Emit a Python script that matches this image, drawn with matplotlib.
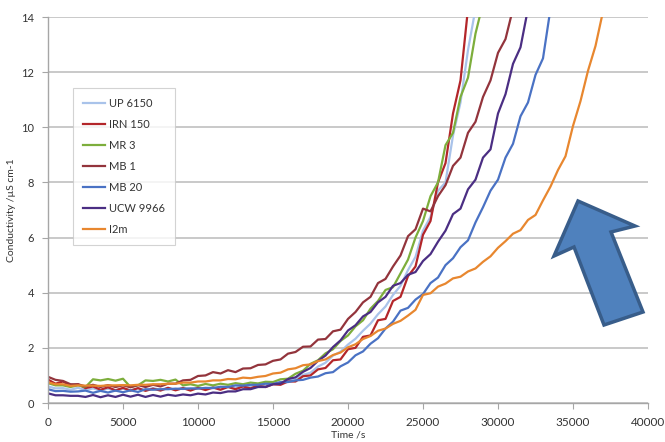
import numpy as np
import matplotlib
matplotlib.use("Agg")
import matplotlib.pyplot as plt
from matplotlib.patches import Polygon

# sampling grid of the logged conductivity runs (s), one reading every 500 s
time_s = np.arange(0, 37001, 500)

# conductivity readings (uS/cm), rows of 14 readings = 7000 s
up6150 = [0.6, 0.53, 0.54, 0.48, 0.55, 0.47, 0.53, 0.46, 0.52, 0.45, 0.52, 0.46, 0.53, 0.47,
          0.54, 0.48, 0.55, 0.48, 0.56, 0.5, 0.57, 0.51, 0.58, 0.53, 0.6, 0.55, 0.62, 0.58,
          0.65, 0.62, 0.72, 0.72, 0.82, 0.86, 1.02, 1.1, 1.32, 1.46, 1.72, 1.86, 2.12, 2.33,
          2.62, 2.88, 3.22, 3.5, 3.92, 4.25, 4.82, 5.3, 6.25, 6.75, 7.7, 8.0, 9.7, 10.9,
          12.8, 14.3]
irn150 = [0.85, 0.7, 0.78, 0.62, 0.68, 0.54, 0.6, 0.48, 0.57, 0.46, 0.55, 0.45, 0.54, 0.44,
          0.52, 0.45, 0.55, 0.46, 0.54, 0.45, 0.55, 0.47, 0.56, 0.48, 0.58, 0.5, 0.6, 0.53,
          0.63, 0.58, 0.68, 0.66, 0.78, 0.78, 0.97, 1.0, 1.22, 1.27, 1.55, 1.58, 1.95, 2.0,
          2.4, 2.45, 3.0, 3.05, 3.7, 3.85, 4.6, 4.95, 6.1, 6.6, 8.0, 8.7, 10.5, 11.7,
          14.3]
mr3 = [0.72, 0.64, 0.64, 0.58, 0.64, 0.58, 0.86, 0.82, 0.87, 0.81, 0.88, 0.58, 0.64, 0.82,
       0.8, 0.84, 0.78, 0.85, 0.64, 0.68, 0.62, 0.69, 0.64, 0.7, 0.66, 0.72, 0.68, 0.74,
       0.71, 0.77, 0.76, 0.86, 0.88, 1.06, 1.17, 1.42, 1.55, 1.8, 1.95, 2.25, 2.45, 2.78,
       3.0, 3.42, 3.7, 4.1, 4.2, 4.7, 5.2, 6.0, 6.6, 7.5, 8.0, 9.35, 9.8, 11.1,
       11.8, 13.4, 14.5]
mb1 = [0.95, 0.84, 0.8, 0.68, 0.68, 0.6, 0.66, 0.58, 0.65, 0.58, 0.64, 0.57, 0.65, 0.58,
       0.66, 0.6, 0.7, 0.7, 0.82, 0.84, 0.98, 1.0, 1.12, 1.07, 1.19, 1.12, 1.25, 1.26,
       1.38, 1.4, 1.53, 1.58, 1.79, 1.85, 2.04, 2.05, 2.3, 2.32, 2.6, 2.66, 3.05, 3.3,
       3.65, 3.85, 4.35, 4.5, 4.95, 5.35, 6.05, 6.3, 7.05, 6.95, 7.5, 7.9, 8.6, 8.9,
       9.8, 10.2, 11.1, 11.7, 12.7, 13.2, 14.3]
mb20 = [0.5, 0.43, 0.44, 0.41, 0.42, 0.45, 0.37, 0.44, 0.38, 0.45, 0.39, 0.46, 0.4, 0.5,
        0.48, 0.5, 0.5, 0.52, 0.51, 0.53, 0.52, 0.55, 0.54, 0.59, 0.58, 0.64, 0.63, 0.66,
        0.66, 0.7, 0.69, 0.76, 0.76, 0.82, 0.84, 0.92, 0.96, 1.08, 1.12, 1.33, 1.47, 1.73,
        1.87, 2.15, 2.35, 2.7, 2.95, 3.35, 3.45, 3.75, 3.95, 4.35, 4.55, 5.0, 5.25, 5.65,
        5.9, 6.55, 7.1, 7.7, 8.1, 8.9, 9.4, 10.4, 10.9, 11.9, 12.5, 14.3]
ucw9966 = [0.35, 0.28, 0.28, 0.26, 0.26, 0.22, 0.29, 0.21, 0.28, 0.22, 0.3, 0.23, 0.3, 0.22,
           0.29, 0.23, 0.3, 0.26, 0.31, 0.28, 0.34, 0.31, 0.38, 0.36, 0.42, 0.42, 0.5, 0.5,
           0.58, 0.58, 0.68, 0.7, 0.87, 0.93, 1.13, 1.27, 1.53, 1.72, 2.03, 2.27, 2.63, 2.82,
           3.14, 3.3, 3.65, 3.85, 4.25, 4.35, 4.65, 4.75, 5.15, 5.4, 5.85, 6.25, 6.85, 7.05,
           7.75, 8.1, 8.9, 9.2, 10.5, 11.2, 12.3, 12.9, 14.3]
i2m = [0.75, 0.68, 0.68, 0.62, 0.64, 0.63, 0.63, 0.62, 0.64, 0.64, 0.65, 0.64, 0.66, 0.66,
       0.68, 0.68, 0.7, 0.7, 0.74, 0.74, 0.78, 0.78, 0.82, 0.82, 0.87, 0.86, 0.92, 0.9,
       0.95, 0.98, 1.07, 1.1, 1.22, 1.26, 1.37, 1.4, 1.52, 1.58, 1.74, 1.83, 2.02, 2.13,
       2.32, 2.43, 2.62, 2.7, 2.87, 2.98, 3.17, 3.38, 3.92, 3.98, 4.22, 4.33, 4.52, 4.58,
       4.77, 4.88, 5.12, 5.32, 5.63, 5.87, 6.14, 6.27, 6.64, 6.82, 7.35, 7.85, 8.45, 8.95,
       10.05, 10.95, 12.05, 12.95, 14.2]

labels = ["UP 6150", "IRN 150", "MR 3", "MB 1", "MB 20", "UCW 9966", "I2m"]
series = [up6150, irn150, mr3, mb1, mb20, ucw9966, i2m]
colours = ["#A9C3EA", "#B3262A", "#7DAE3C", "#93343C", "#4A72C4", "#4B2E83", "#E8872F"]
x_ticks = [0, 5000, 10000, 15000, 20000, 25000, 30000, 35000, 40000]
y_ticks = [0, 2, 4, 6, 8, 10, 12, 14]

plt.rcParams['font.family'] = ['Lato', 'DejaVu Sans']

fig = plt.figure(figsize=(6.65, 4.42), dpi=100)
ax = fig.add_axes([48 / 665, 39 / 442, 600 / 665, 386 / 442])

for y, lab, col in zip(series, labels, colours):
    ax.plot(time_s[:len(y)], y, color=col, lw=1.6, label=lab)

ax.set_xlim(0, 40000)
ax.set_ylim(0, 14)
ax.set_xticks(x_ticks)
ax.set_yticks(y_ticks)
ax.grid(axis='y', color='#C0C0C0', lw=1.2)
ax.set_axisbelow(True)
for side in ['top', 'right']:
    ax.spines[side].set_visible(False)
for side in ['left', 'bottom']:
    ax.spines[side].set_color('#A6A6A6')
    ax.spines[side].set_linewidth(1.0)
ax.tick_params(axis='both', colors='#A6A6A6', labelcolor='#333333', length=4)
ax.tick_params(axis='x', labelsize=8.5, pad=6)
ax.tick_params(axis='y', labelsize=8, pad=6)

ax.set_xlabel("Time /s", fontsize=7.5, color='#333333', labelpad=2)
ax.set_ylabel("Conductivity /µS cm-1", fontsize=7.5, color='#333333', labelpad=4)

leg = ax.legend(loc='upper left', bbox_to_anchor=(0.042, 0.816), borderaxespad=0,
                fontsize=8, handlelength=2.0, handletextpad=0.3, labelspacing=0.9,
                fancybox=False, frameon=True, borderpad=0.9)
leg.get_frame().set_edgecolor('#C8C8C8')
leg.get_frame().set_linewidth(0.8)
for t in leg.get_texts():
    t.set_color('#333333')

# big blue arrow drawn over the chart (figure pixel outline)
arrow_px = [(578, 201), (635, 226), (611, 232), (643, 312), (604, 325), (574, 247), (554, 256)]
arrow = Polygon([(px / 665, 1 - py / 442) for px, py in arrow_px], closed=True,
                transform=fig.transFigure, facecolor='#4F81BD', edgecolor='#385D8A',
                lw=2.5, joinstyle='miter')
fig.patches.append(arrow)

fig.savefig("out.png", dpi=100)
